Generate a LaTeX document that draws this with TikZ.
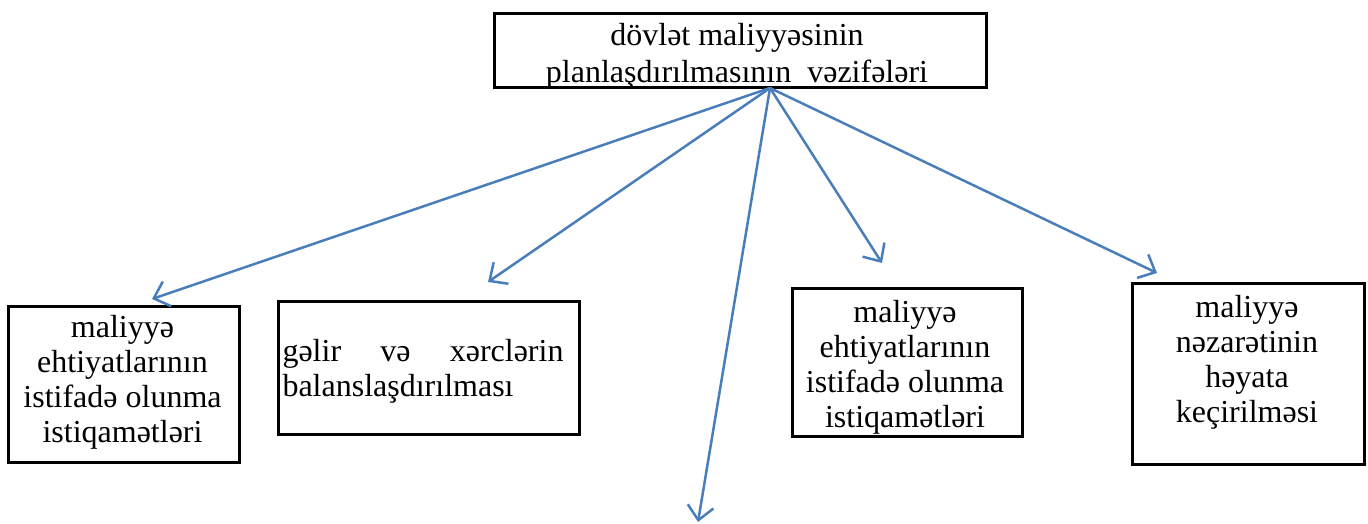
\documentclass[tikz,border=0pt]{standalone}
\usepackage{fontspec}
\setmainfont{Liberation Serif}
\usetikzlibrary{arrows.meta}
\definecolor{arrowblue}{HTML}{4A7EBB}
\begin{document}
\begin{tikzpicture}[x=1pt,y=-1pt,
  box/.style={draw=black, line width=3pt, inner sep=0pt, anchor=north west},
  txt/.style={font=\fontsize{32}{35}\selectfont, align=center, inner sep=0pt},
  toptxt/.style={font=\fontsize{32}{37}\selectfont, align=center, inner sep=0pt},
  conn/.style={draw=arrowblue, line width=2.5pt, -{Straight Barb[length=14pt,width=26pt]}}]
\useasboundingbox[fill=white] (0,0) rectangle (1368,524);
% boxes
\node[box, minimum width=492, minimum height=74] (b0) at (493,12) {};
\node[box, minimum width=231, minimum height=156] (b1) at (7,305) {};
\node[box, minimum width=301, minimum height=133] (b2) at (277,300) {};
\node[box, minimum width=230, minimum height=148] (b3) at (791,287) {};
\node[box, minimum width=232, minimum height=181] (b4) at (1131,282) {};
% texts
\node[toptxt] (t0) at (737,56) {dövlət maliyyəsinin\\planlaşdırılmasının\ \ vəzifələri};
\node[txt] (t1) at (122.5,382) {maliyyə\\ehtiyatlarının\\istifadə olunma\\istiqamətləri};
\node[txt, text width=281pt, align=left] (t2) at (423,371) {gəlir\hfill və\hfill xərclərin\\balanslaşdırılması};
\node[txt] (t3) at (905,367) {maliyyə\\ehtiyatlarının\\istifadə olunma\\istiqamətləri};
\node[txt] (t4) at (1247,362) {maliyyə\\nəzarətinin\\həyata\\keçirilməsi};
% connectors
\coordinate (o) at (770,88);
\coordinate (e1) at (152,299);
\coordinate (e2) at (488,282);
\coordinate (e3) at (698,522);
\coordinate (e4) at (882,263);
\coordinate (e5) at (1157,273);
\draw[conn] (o) -- (e1);
\draw[conn] (o) -- (e2);
\draw[conn] (o) -- (e3);
\draw[conn] (o) -- (e4);
\draw[conn] (o) -- (e5);
\end{tikzpicture}
\end{document}
